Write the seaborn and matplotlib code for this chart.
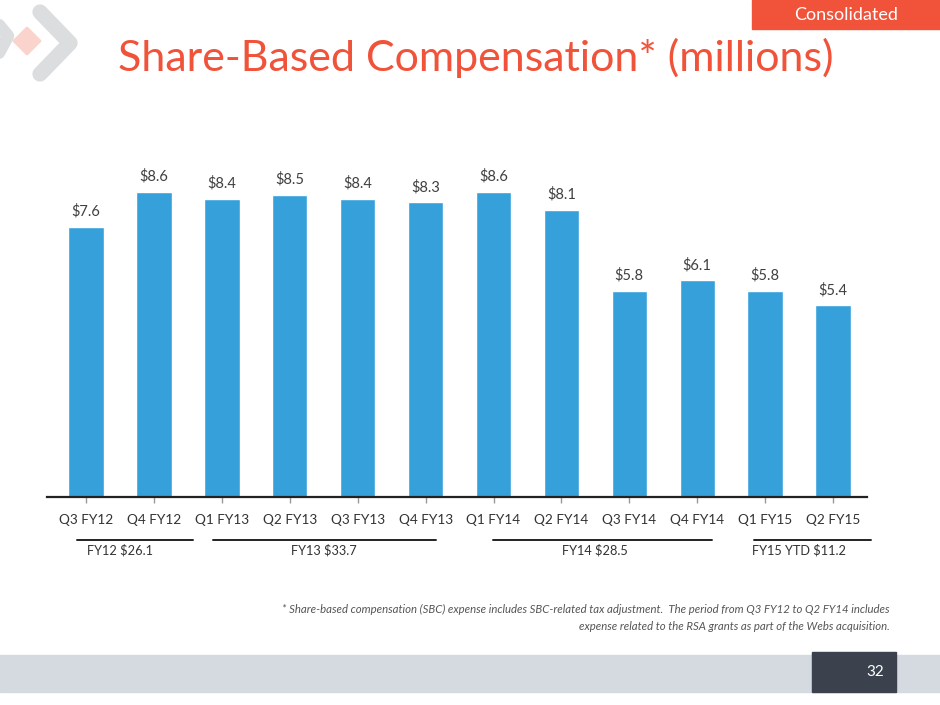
import matplotlib
matplotlib.use('Agg')
import matplotlib.pyplot as plt
from matplotlib.patches import Rectangle, Polygon
from matplotlib.lines import Line2D
import matplotlib.transforms as mtransforms
import seaborn as sns
import pandas as pd

# data
quarters = ['Q3 FY12', 'Q4 FY12', 'Q1 FY13', 'Q2 FY13', 'Q3 FY13', 'Q4 FY13',
            'Q1 FY14', 'Q2 FY14', 'Q3 FY14', 'Q4 FY14', 'Q1 FY15', 'Q2 FY15']
sbc = [7.6, 8.6, 8.4, 8.5, 8.4, 8.3, 8.6, 8.1, 5.8, 6.1, 5.8, 5.4]

group_names = ['FY12 $26.1', 'FY13 $33.7', 'FY14 $28.5', 'FY15 YTD $11.2']
group_first = [0, 2, 6, 10]
group_last = [1, 5, 9, 11]

# layout of the fiscal-year underlines (bar-index units)
group_spans = [(-0.14, 1.57), (1.87, 5.15), (5.99, 9.22), (9.84, 11.56)]

title = 'Share-Based Compensation* (millions)'
footnote = ['* Share-based compensation (SBC) expense includes SBC-related tax adjustment.  The period from Q3 FY12 to Q2 FY14 includes',
            'expense related to the RSA grants as part of the Webs acquisition.']

bar_color = '#35A0DA'
red = '#F0533A'

sns.set_style('white')
plt.rcParams['font.family'] = ['Lato', 'DejaVu Sans']

fig = plt.figure(figsize=(9.4, 7.05), dpi=100)
W, H = 940, 705


def fx(px):
    return px / W


def fy(py):
    return 1 - py / H


ax = fig.add_axes([fx(47), fy(497), fx(867) - fx(47), fy(130) - fy(497)])

df = pd.DataFrame({'quarter': quarters, 'sbc': sbc})
sns.barplot(data=df, x='quarter', y='sbc', color=bar_color, saturation=1,
            width=0.52, ax=ax)

ax.set_xlim(-0.575, 11.5)
ax.set_ylim(0, 10.34)
ax.set_xlabel('')
ax.set_ylabel('')
ax.set_yticks([])
for s in ['top', 'right', 'left']:
    ax.spines[s].set_visible(False)
ax.spines['bottom'].set_color('#222222')
ax.spines['bottom'].set_linewidth(1.6)
ax.tick_params(axis='x', bottom=True, length=4, width=1, color='#999999',
               pad=8, labelsize=9.8, labelcolor='#333333')

for i, v in enumerate(sbc):
    ax.annotate(f'${v:.1f}', (i, v), xytext=(0, 6), textcoords='offset points',
                ha='center', va='bottom', fontsize=10.5, color='#404040')

# fiscal year brackets
trans = mtransforms.blended_transform_factory(ax.transData, ax.transAxes)
for name, a, b, (x0, x1) in zip(group_names, group_first, group_last, group_spans):
    ax.plot([x0, x1], [-0.118, -0.118], color='#222222', lw=1.4,
            transform=trans, clip_on=False)
    ax.text((a + b) / 2, -0.128, name, transform=trans, ha='center', va='top',
            fontsize=9.2, color='#333333')

# title and tag
fig.text(fx(118), fy(58), title, fontsize=31, color=red, ha='left', va='center')
fig.patches.append(Rectangle((fx(752), fy(29)), fx(188), fy(0) - fy(29),
                             transform=fig.transFigure, color=red, zorder=0))
fig.text(fx(846), fy(15), 'Consolidated', fontsize=13, color='white',
         ha='center', va='center')

# logo
logo_gray = '#DCDDDF'
fig.lines.append(Line2D([fx(40), fx(70), fx(40)], [fy(12), fy(43), fy(74)],
                        transform=fig.transFigure, color=logo_gray, lw=11,
                        solid_capstyle='round', solid_joinstyle='round'))
fig.lines.append(Line2D([fx(-6), fx(8), fx(-6)], [fy(19), fy(36), fy(62)],
                        transform=fig.transFigure, color=logo_gray, lw=9,
                        solid_capstyle='round', solid_joinstyle='round'))
fig.patches.append(Polygon([(fx(27), fy(28)), (fx(40), fy(41)),
                            (fx(27), fy(54)), (fx(14), fy(41))],
                           transform=fig.transFigure, color='#FAD3CD',
                           joinstyle='round', lw=2))

# footnote
fig.text(fx(890), fy(609), footnote[0], fontsize=8.2, style='italic',
         color='#555555', ha='right', va='center')
fig.text(fx(890), fy(626), footnote[1], fontsize=8.2, style='italic',
         color='#555555', ha='right', va='center')

# footer band
fig.patches.append(Rectangle((0, fy(692)), 1, fy(655) - fy(692),
                             transform=fig.transFigure, color='#D5D9E0', zorder=0))
fig.patches.append(Rectangle((fx(812), fy(692)), fx(84), fy(652) - fy(692),
                             transform=fig.transFigure, color='#3B424D', zorder=1))
fig.text(fx(884), fy(672), '32', fontsize=11, color='white', ha='right',
         va='center')

fig.savefig('out.png', dpi=100)
